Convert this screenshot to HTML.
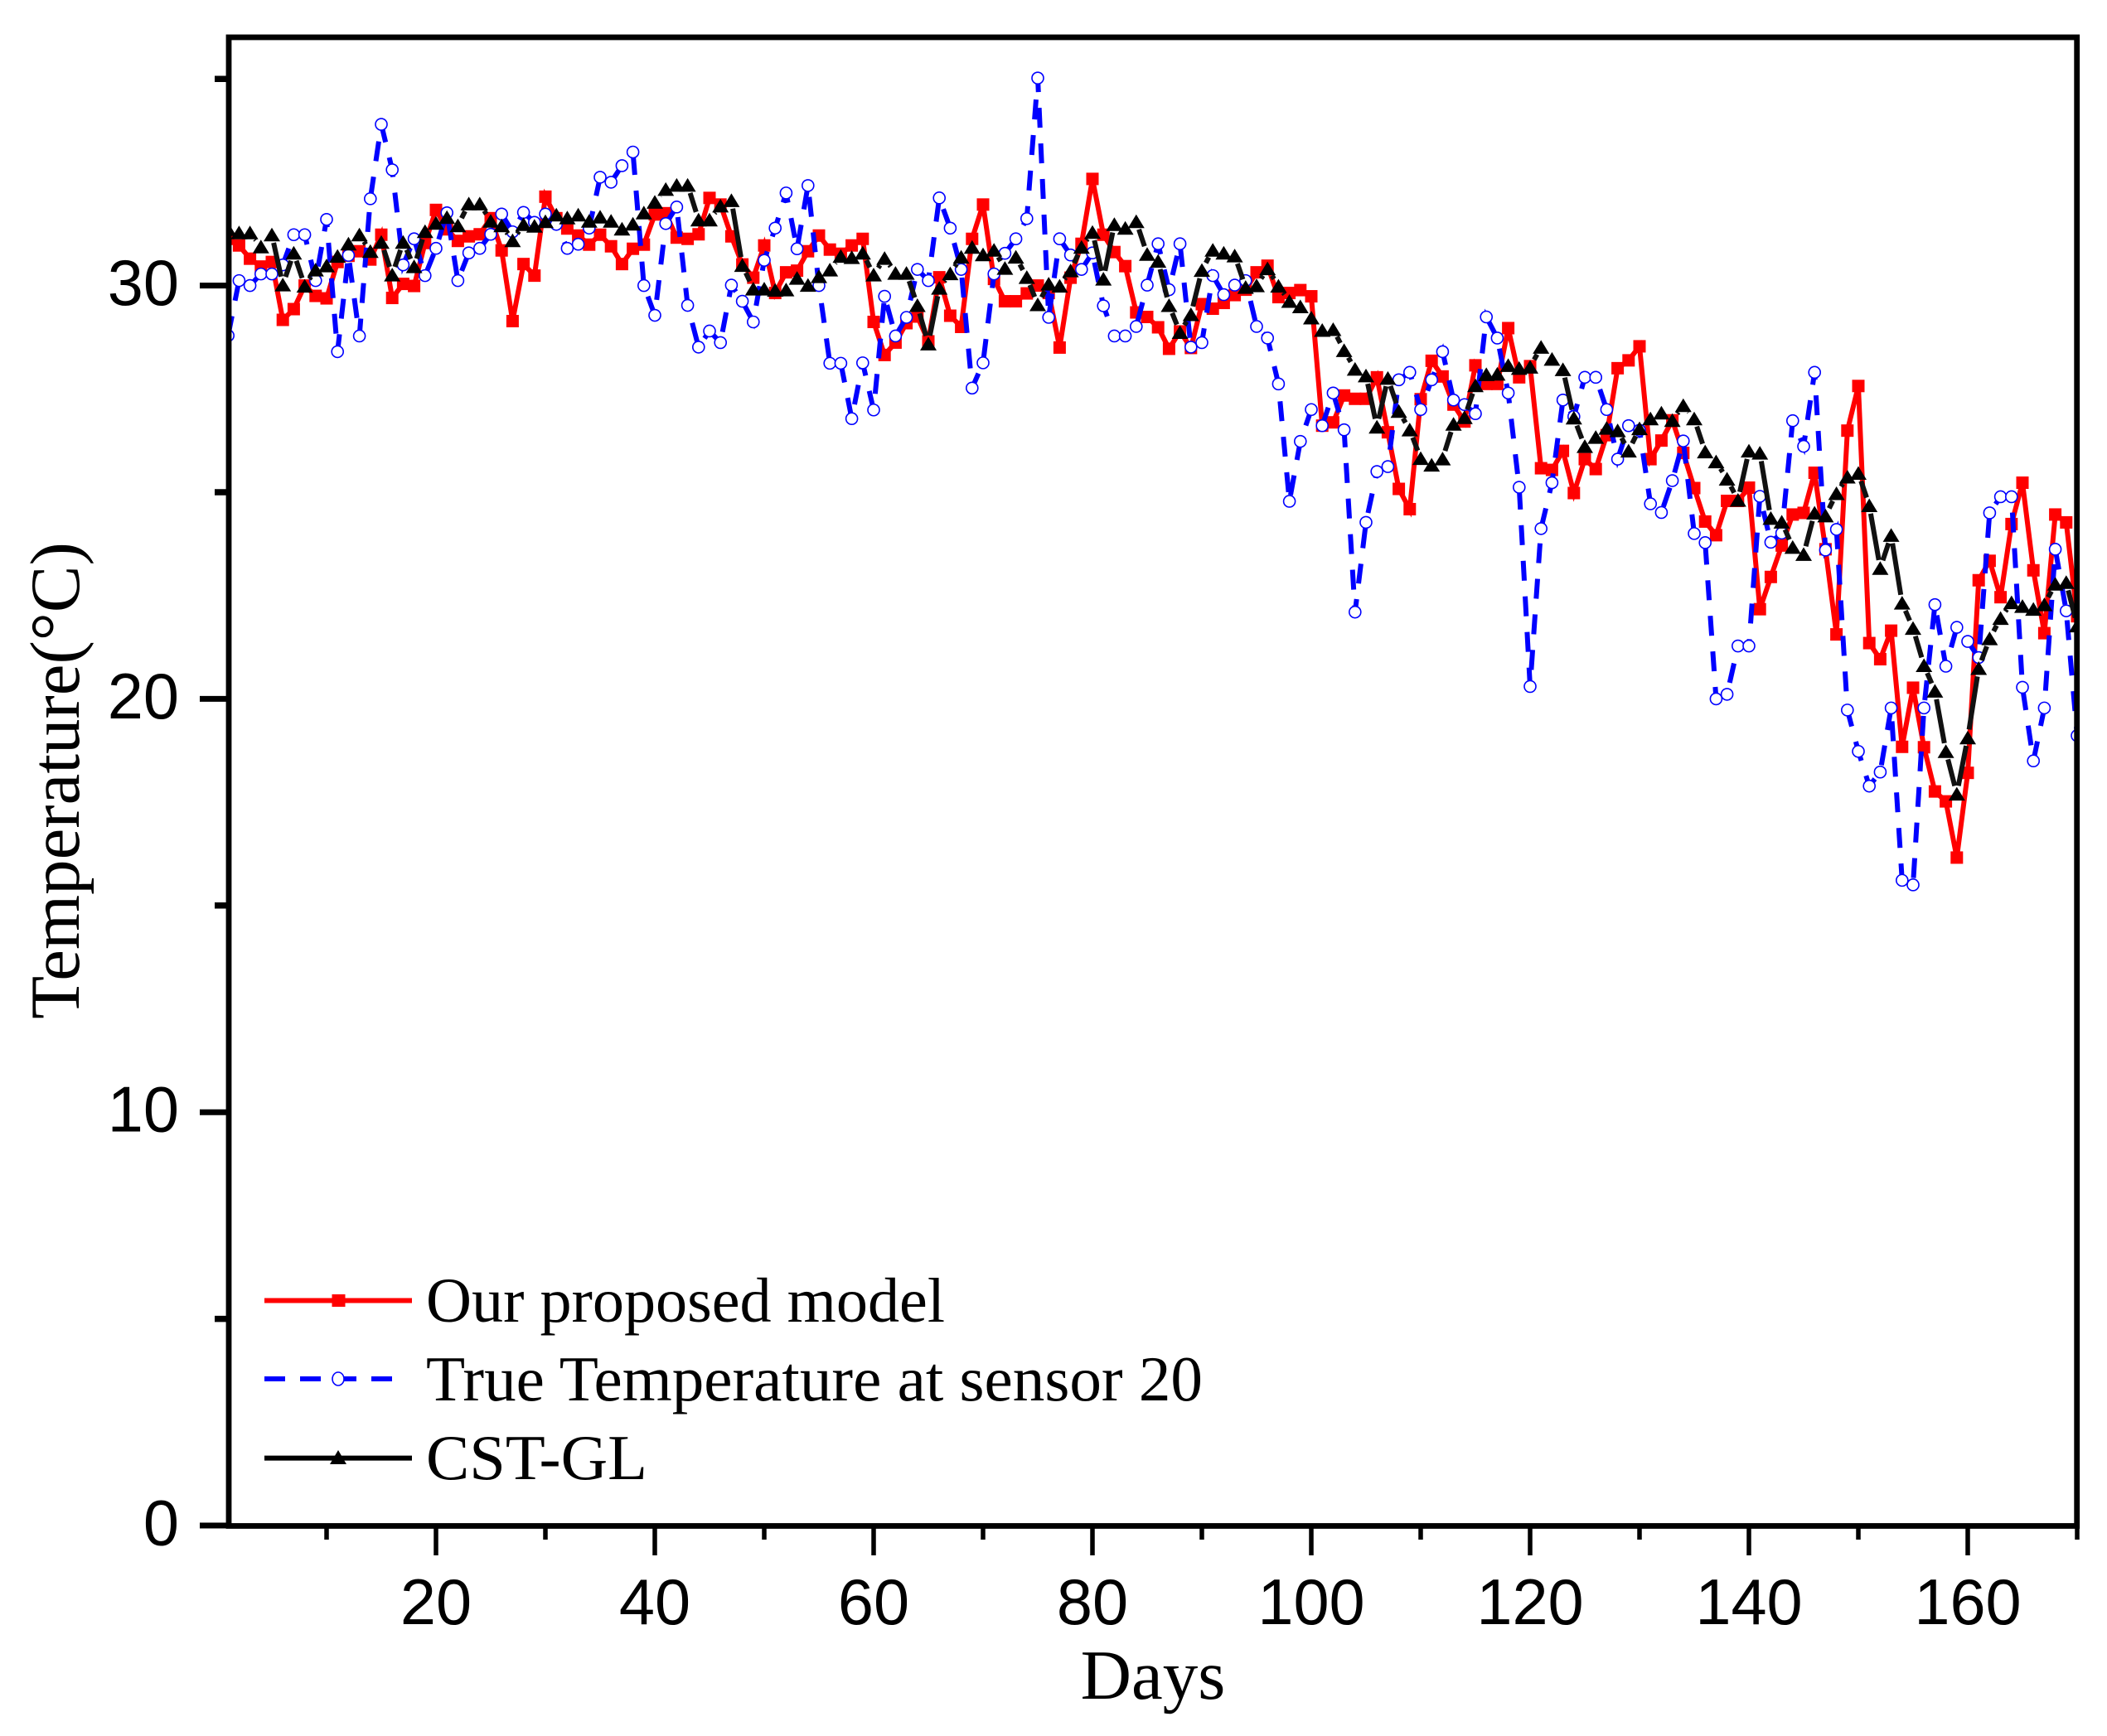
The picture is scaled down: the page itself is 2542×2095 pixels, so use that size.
<!DOCTYPE html>
<html lang="en">
<head>
<meta charset="utf-8">
<title>Temperature chart</title>
<style>
html,body{margin:0;padding:0;background:#fff;}
svg{display:block;}
text{fill:#000;}
.sans{font-family:"Liberation Sans",sans-serif;font-size:77.5px;}
.serif{font-family:"Liberation Serif",serif;}
</style>
</head>
<body>
<svg id="chart" xmlns="http://www.w3.org/2000/svg" width="2542" height="2095" viewBox="0 0 2542 2095">
<defs><clipPath id="plot-clip"><rect x="275" y="45" width="2231" height="1796"/></clipPath></defs>
<rect x="0" y="0" width="2542" height="2095" fill="#fff"/>
<g id="series-layer" clip-path="url(#plot-clip)"></g>
<g id="axis-layer"></g>
<text class="serif" x="1391" y="2050" font-size="85" text-anchor="middle">Days</text>
<text class="serif" x="0" y="0" font-size="85" text-anchor="middle" transform="translate(95,942) rotate(-90)">Temperature(°C)</text>
<g>
  <g>
    <line x1="319" y1="1569.5" x2="497" y2="1569.5" stroke="#f00" stroke-width="6"/>
    <rect x="400.5" y="1562" width="16" height="15" fill="#f00"/>
    <text class="serif" x="514" y="1595" font-size="76" textLength="626" lengthAdjust="spacingAndGlyphs">Our proposed model</text>
  </g>
  <g>
    <line x1="319" y1="1664" x2="475" y2="1664" stroke="#00f" stroke-width="6" stroke-dasharray="25 18"/>
    <ellipse cx="408" cy="1664" rx="7" ry="8" fill="#fff" stroke="#00f" stroke-width="1.6"/>
    <text class="serif" x="514" y="1690" font-size="77" textLength="937" lengthAdjust="spacingAndGlyphs">True Temperature at sensor 20</text>
  </g>
  <g>
    <line x1="319" y1="1759.6" x2="497" y2="1759.6" stroke="#000" stroke-width="6"/>
    <polygon points="408,1750 418,1767 398,1767" fill="#000"/>
    <text class="serif" x="514" y="1785" font-size="77" textLength="267" lengthAdjust="spacingAndGlyphs">CST-GL</text>
  </g>
</g>
<script>
var proposedModel = [
31.13,30.97,30.65,30.46,30.57,29.17,29.43,30.0,29.75,29.69,
30.57,30.72,30.83,30.63,31.23,29.7,30.04,29.99,31.03,31.83,
31.36,31.08,31.19,31.24,31.63,30.85,29.14,30.52,30.24,32.15,
31.63,31.38,31.21,30.99,31.23,30.95,30.52,30.89,30.99,31.72,
31.75,31.16,31.13,31.24,32.12,31.96,31.19,30.51,30.19,30.97,
29.82,30.32,30.36,30.83,31.21,30.87,30.77,30.97,31.13,29.12,
28.32,28.62,29.09,29.25,28.65,30.2,29.27,29.0,31.13,31.96,
30.16,29.62,29.62,29.81,30.0,29.82,28.5,30.19,31.01,32.58,
31.23,30.81,30.47,29.35,29.24,28.99,28.47,28.89,28.49,29.55,
29.44,29.58,29.77,29.9,30.32,30.48,29.72,29.82,29.89,29.74,
26.61,26.69,27.34,27.26,27.26,27.78,26.45,25.08,24.59,27.25,
28.18,27.8,27.12,26.71,28.07,27.62,27.62,28.97,27.78,28.05,
25.58,25.54,26.0,24.98,25.8,25.56,26.38,28.0,28.19,28.53,
25.8,26.25,26.74,25.95,25.1,24.29,23.96,24.79,24.79,25.11,
22.17,22.95,23.71,24.46,24.5,25.47,23.62,21.56,26.49,27.57,
21.35,20.96,21.65,18.84,20.27,18.83,17.76,17.52,16.16,18.21,
22.87,23.34,22.46,24.23,25.23,23.11,21.59,24.46,24.27,22.0
];
var trueTemperature = [
28.79,30.12,30.0,30.28,30.28,30.5,31.23,31.23,30.12,31.6,
28.4,30.73,28.78,32.1,33.9,32.8,30.5,31.13,30.24,30.9,
31.76,30.12,30.79,30.9,31.24,31.73,31.3,31.77,31.53,31.73,
31.48,30.9,31.0,31.39,32.62,32.5,32.9,33.23,30.0,29.28,
31.5,31.9,29.52,28.51,28.9,28.62,30.01,29.62,29.12,30.61,
31.39,32.24,30.89,32.42,30.0,28.12,28.12,26.78,28.13,26.99,
29.74,28.78,29.23,30.39,30.12,32.12,31.39,30.39,27.52,28.13,
30.28,30.78,31.13,31.62,35.02,29.23,31.13,30.74,30.39,30.79,
29.51,28.78,28.78,29.01,30.01,31.01,29.9,31.01,28.51,28.62,
30.24,29.78,30.01,30.12,29.01,28.73,27.62,24.78,26.23,27.0,
26.61,27.4,26.51,22.1,24.27,25.5,25.62,27.72,27.9,27.0,
27.72,28.4,27.23,27.12,26.9,29.24,28.73,27.4,25.12,20.3,
24.12,25.23,27.23,26.83,27.78,27.78,27.0,25.8,26.61,26.5,
24.72,24.51,25.28,26.24,24.0,23.78,20.0,20.11,21.28,21.28,
24.9,23.79,24.01,26.73,26.11,27.9,23.6,24.1,19.73,18.73,
17.89,18.23,19.78,15.61,15.5,19.78,22.28,20.79,21.73,21.39,
21.0,24.5,24.89,24.89,20.28,18.5,19.78,23.62,22.13,19.11
];
var cstGl = [
31.36,31.28,31.28,30.94,31.23,30.02,30.79,29.99,30.38,30.48,
30.71,31.01,31.23,30.83,31.05,30.26,31.05,30.46,31.31,31.51,
31.65,31.45,31.98,31.98,31.56,31.45,31.09,31.48,31.44,31.55,
31.71,31.64,31.71,31.56,31.66,31.56,31.37,31.49,31.76,32.02,
32.33,32.43,32.43,31.59,31.59,31.93,32.06,30.49,29.92,29.92,
29.89,29.9,30.18,30.01,30.22,30.38,30.71,30.68,30.79,30.26,
30.66,30.3,30.3,29.52,28.59,29.94,30.29,30.69,30.93,30.75,
30.86,30.42,30.69,30.2,29.54,30.04,29.99,30.36,30.93,31.29,
30.16,31.48,31.39,31.55,30.76,30.59,29.52,28.87,29.3,30.37,
30.86,30.79,30.72,29.96,30.0,30.41,29.99,29.62,29.49,29.22,
28.92,28.94,28.43,27.98,27.82,26.58,27.76,26.96,26.51,25.82,
25.66,25.81,26.65,26.81,27.58,27.85,27.86,28.07,28.0,28.03,
28.51,28.22,27.97,26.8,26.11,26.33,26.55,26.49,26.0,26.54,
26.78,26.92,26.74,27.1,26.78,25.98,25.74,25.32,24.81,26.0,
25.95,24.37,24.28,23.67,23.5,24.5,24.43,24.97,25.37,25.46,
24.68,23.16,23.96,22.32,21.71,20.81,20.19,18.73,17.7,19.06,
20.74,21.46,21.95,22.33,22.24,22.17,22.28,22.78,22.82,21.77
];
var xMajorTicks = [20,40,60,80,100,120,140,160];
var xMinorTicks = [10,30,50,70,90,110,130,150,170];
var yMajorTicks = [0,10,20,30];
var yMinorTicks = [5,15,25,35];

var SVG_NS = 'http://www.w3.org/2000/svg';
var seriesLayer = document.getElementById('series-layer');
var axisLayer = document.getElementById('axis-layer');

function xScale(day){ return 275.2 + (day - 1) * 13.2; }
function yScale(v){ return 1841 - v * 49.88; }
function make(tag, parent, attrs){
  var el = document.createElementNS(SVG_NS, tag);
  for (var k in attrs){ el.setAttribute(k, attrs[k]); }
  parent.appendChild(el);
  return el;
}
function pointsOf(values){
  return values.map(function(v, i){ return xScale(i + 1).toFixed(1) + ',' + yScale(v).toFixed(1); }).join(' ');
}

/* red series */
var redLine = make('polyline', seriesLayer, {points: pointsOf(proposedModel), fill: 'none', stroke: '#f00', 'stroke-width': 6, 'stroke-linejoin': 'miter'});


proposedModel.forEach(function(v, i){
  var m = make('rect', seriesLayer, {x: xScale(i + 1) - 7.5, y: yScale(v) - 7.5, width: 15, height: 15, fill: '#f00'});
  
  
});

/* blue series */
var blueLine = make('polyline', seriesLayer, {points: pointsOf(trueTemperature), fill: 'none', stroke: '#00f', 'stroke-width': 6, 'stroke-dasharray': '24 19'});


trueTemperature.forEach(function(v, i){
  var m = make('circle', seriesLayer, {cx: xScale(i + 1), cy: yScale(v), r: 7, fill: '#fff', stroke: '#00f', 'stroke-width': 1.6});
  
  
});

/* black series: segments stop short of the symbols */
var gap = 10;
var blackPath = '';
for (var i = 0; i < cstGl.length - 1; i++){
  var x0 = xScale(i + 1), y0 = yScale(cstGl[i]), x1 = xScale(i + 2), y1 = yScale(cstGl[i + 1]);
  var len = Math.sqrt((x1 - x0) * (x1 - x0) + (y1 - y0) * (y1 - y0));
  if (len <= 2 * gap) { continue; }
  var ux = (x1 - x0) / len, uy = (y1 - y0) / len;
  blackPath += 'M' + (x0 + ux * gap).toFixed(1) + ' ' + (y0 + uy * gap).toFixed(1) + 'L' + (x1 - ux * gap).toFixed(1) + ' ' + (y1 - uy * gap).toFixed(1);
}
var blackLine = make('path', seriesLayer, {d: blackPath, fill: 'none', stroke: '#111', 'stroke-width': 6});


cstGl.forEach(function(v, i){
  var cx = xScale(i + 1), cy = yScale(v);
  var pts = cx + ',' + (cy - 8.5) + ' ' + (cx + 10) + ',' + (cy + 8) + ' ' + (cx - 10) + ',' + (cy + 8);
  var m = make('polygon', seriesLayer, {points: pts, fill: '#000'});
  
  
});

/* frame */
var frame = make('rect', axisLayer, {x: 276, y: 45, width: 2505.7 - 276, height: 1841.5 - 45, fill: 'none', stroke: '#000', 'stroke-width': 6.8});



/* x ticks */
xMajorTicks.forEach(function(t){
  var tick = make('line', axisLayer, {x1: xScale(t), x2: xScale(t), y1: 1841, y2: 1877, stroke: '#000', 'stroke-width': 5.5});
  
  
  var label = make('text', axisLayer, {x: xScale(t), y: 1960, 'text-anchor': 'middle', 'class': 'sans'});
  
  
  label.textContent = t;
});
xMinorTicks.forEach(function(t){
  var tick = make('line', axisLayer, {x1: xScale(t), x2: xScale(t), y1: 1841, y2: 1858, stroke: '#000', 'stroke-width': 5.5});
  
  
});

/* y ticks */
yMajorTicks.forEach(function(t){
  var tick = make('line', axisLayer, {x1: 241, x2: 276, y1: yScale(t), y2: yScale(t), stroke: '#000', 'stroke-width': 7});
  
  
  var label = make('text', axisLayer, {x: 216, y: yScale(t) + 23.5, 'text-anchor': 'end', 'class': 'sans'});
  
  
  label.textContent = t;
});
yMinorTicks.forEach(function(t){
  var tick = make('line', axisLayer, {x1: 259, x2: 276, y1: yScale(t), y2: yScale(t), stroke: '#000', 'stroke-width': 7.5});
  
  
});
</script>
</svg>
</body>
</html>
